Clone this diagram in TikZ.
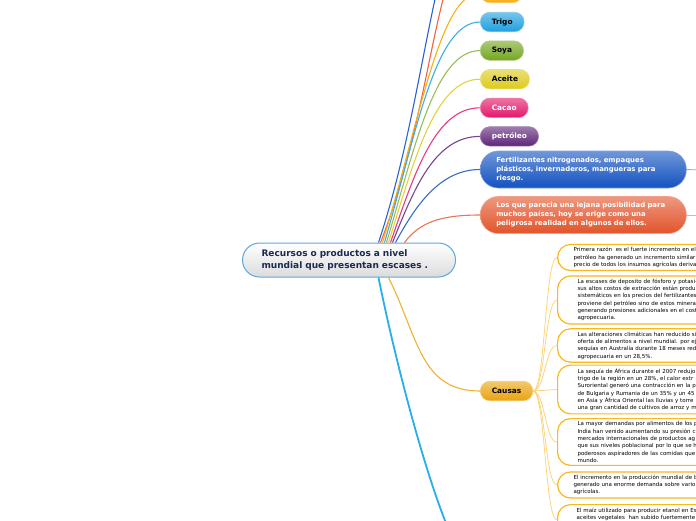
\documentclass[tikz,border=0pt]{standalone}
\usepackage{fontspec}
\setmainfont{DejaVu Sans}
\usetikzlibrary{positioning}

\definecolor{raiz_borde}{HTML}{5AA8E0}
\definecolor{raiz_texto}{HTML}{1B2A52}
\definecolor{naranja}{HTML}{F5AE17}
\definecolor{trigo_c}{HTML}{1E9FDD}
\definecolor{soya_c}{HTML}{74A620}
\definecolor{aceite_c}{HTML}{DCCB1C}
\definecolor{cacao_c}{HTML}{E3176B}
\definecolor{petroleo_c}{HTML}{5E2478}
\definecolor{fert_c}{HTML}{1252C0}
\definecolor{lejana_c}{HTML}{E2542A}
\definecolor{causas_c}{HTML}{EBA30F}
\definecolor{causa_borde}{HTML}{F8B820}
\definecolor{causa_linea}{HTML}{FCD47C}
\definecolor{azul_off}{HTML}{2A62D2}
\definecolor{rojo_off}{HTML}{F0643E}
\definecolor{celeste}{HTML}{29AEE8}

\newcommand{\topicfont}{\fontsize{7.4}{9}\selectfont\bfseries}
\newcommand{\widefont}{\fontsize{6.9}{9}\selectfont\bfseries}
\newcommand{\rootfont}{\fontsize{9}{12}\selectfont\bfseries}
\newcommand{\causefont}{\fontsize{5.5}{7.3}\selectfont}

\begin{document}
\begin{tikzpicture}[
    x=1pt, y=-1pt,
    % --- STYLES ---
    base_node/.style={rounded corners=9.5pt, minimum height=19.5pt, inner xsep=11.5pt, inner ysep=0pt, anchor=west, font=\topicfont},
    topic/.style={base_node, top color=#1!60!white, bottom color=#1, draw=#1!55!white, line width=0.6pt},
    wide/.style={topic=#1, rounded corners=18pt, minimum height=37pt, text width=174pt, inner xsep=16pt, align=left, text=white, font=\widefont},
    root/.style={rounded corners=17pt, minimum height=34pt, text width=175pt, inner xsep=19pt, align=left, anchor=west,
        top color=white, bottom color=black!14, draw=raiz_borde, line width=1pt, text=raiz_texto, font=\rootfont},
    causa/.style={draw=causa_borde, line width=1.2pt, fill=white, rounded corners=13pt, text width=200pt, align=left,
        inner xsep=20pt, inner ysep=3pt, anchor=west, font=\causefont},
    conn/.style={line width=1.1pt},
    causa_conn/.style={line width=0.8pt, causa_linea}
]
\useasboundingbox (0,0) rectangle (696,520);
\clip (0,0) rectangle (696,520);

% --- ROOT ---
\node (root) [root] at (242,260) {Recursos o productos a nivel\\mundial que presentan escases .};

% --- UPPER BRANCHES ---
\node (naranja_top) [topic=naranja, minimum width=42pt] at (480,-7) {};
\node (trigo) [topic=trigo_c] at (480,22) {Trigo};
\node (soya) [topic=soya_c, below=8.5pt of trigo.south west, anchor=north west] {Soya};
\node (aceite) [topic=aceite_c, below=8.5pt of soya.south west, anchor=north west] {Aceite};
\node (cacao) [topic=cacao_c, text=white, below=8.5pt of aceite.south west, anchor=north west] {Cacao};
\node (petroleo) [topic=petroleo_c, text=white, below=8.5pt of cacao.south west, anchor=north west] {petróleo};
\node (fert) [wide=fert_c] at (480,169.5) {Fertilizantes nitrogenados, empaques\\plásticos, invernaderos, mangueras para\\riesgo.};
\node (lejana) [wide=lejana_c] at (480,215) {Los que parecia una lejana posibilidad para\\muchos países, hoy se erige como una\\peligrosa realidad en algunos de ellos.};

% free ends (off the page)
\coordinate (azul_end) at (480,-95);
\coordinate (rojo_end) at (480,-60);
\coordinate (fert_out) at (700,170);
\coordinate (lejana_out) at (700,215);
\coordinate (bajo_end) at (480,575);

% --- CAUSAS BRANCH ---
\node (causas) [topic=causas_c] at (480,391) {Causas};

\node (causa_1) [causa, inner xsep=16pt] at (557,257.5) {Primera razón\ \ es el fuerte incremento en el\\petróleo ha generado un incremento similar\\precio de todos los insumos agrícolas deriva};
\node (causa_2) [causa] at (557,300) {La escases de deposito de fósforo y potasi-\\sus altos costos de extracción están produ\\sistemáticos en los precios del fertilizantes\\proviene del petróleo sino de estos minera\\generando presiones adicionales en el cost\\agropecuaria.};
\node (causa_3) [causa] at (557,345.5) {Las alteraciones climáticas han reducido sig\\oferta de alimentos a nivel mundial. por ej\\sequías en Australia durante 18 meses red\\agropecuaria en un 28,5\%.};
\node (causa_4) [causa] at (557,389.5) {La sequía de África durante el 2007 redujo\\trigo de la región en un 28\%, el calor extr\\Suroriental generó una contracción en la p\\de Bulgaria y Rumania de un 35\% y un 45\\en Asia y África Oriental las lluvias y torre\\una gran cantidad de cultivos de arroz y m};
\node (causa_5) [causa] at (557,442) {La mayor demandas por alimentos de los p\\India han venido aumentando su presión c\\mercados internacionales de productos ag\\que sus niveles poblacional por lo que se h\\poderosos aspiradores de las comidas que\\mundo.};
\node (causa_6) [causa, inner xsep=16pt] at (557,485) {El incremento en la producción mundial de b\\generado una enorme demanda sobre vario\\agrícolas.};
\node (causa_7) [causa, inner xsep=19pt, anchor=north west, text depth=20pt] at (557,504) {El maíz utilizado para producir etanol en Es\\aceites vegetales\ \ han subido fuertemente};

% --- CONNECTORS ---
\draw [conn, azul_off] ([xshift=29.5pt]root.north) .. controls +(50,-150) and +(-45,0) .. (azul_end);
\draw [conn, rojo_off] ([xshift=31.5pt]root.north) .. controls +(55,-140) and +(-45,0) .. (rojo_end);
\draw [conn, naranja] ([xshift=33.5pt]root.north) .. controls +(38,-125) and +(-40,0) .. (naranja_top.west);
\draw [conn, trigo_c!85!white] ([xshift=35.5pt]root.north) .. controls +(32,-110) and +(-45,0) .. (trigo.west);
\draw [conn, soya_c!75!white] ([xshift=37.5pt]root.north) .. controls +(29,-97) and +(-45,0) .. (soya.west);
\draw [conn, aceite_c!85!white] ([xshift=39.5pt]root.north) .. controls +(26,-83) and +(-45,0) .. (aceite.west);
\draw [conn, cacao_c!85!white] ([xshift=41.5pt]root.north) .. controls +(24,-69) and +(-45,0) .. (cacao.west);
\draw [conn, petroleo_c!85!white] ([xshift=43.5pt]root.north) .. controls +(22,-55) and +(-45,0) .. (petroleo.west);
\draw [conn, fert_c!85!white] ([xshift=46.5pt]root.north) .. controls +(20,-37) and +(-40,0) .. (fert.west);
\draw [conn, lejana_c!80!white] ([xshift=55.5pt]root.north) .. controls +(15,-20) and +(-40,0) .. (lejana.west);
\draw [line width=0.8pt, fert_c!50!white] (fert.east) -- (fert_out);
\draw [line width=0.8pt, lejana_c!50!white] (lejana.east) -- (lejana_out);

\draw [conn, causas_c!85!white] ([xshift=39.5pt]root.south) .. controls +(30,60) and +(-60,0) .. (causas.west);
\draw [line width=1.8pt, celeste] ([xshift=29.5pt]root.south) .. controls +(20,100) and +(-30,0) .. (bajo_end);

\foreach \i in {1,...,7}
    \draw [causa_conn] (causas.east) .. controls +(12,0) and +(-12,0) .. (causa_\i.west);

\end{tikzpicture}
\end{document}
